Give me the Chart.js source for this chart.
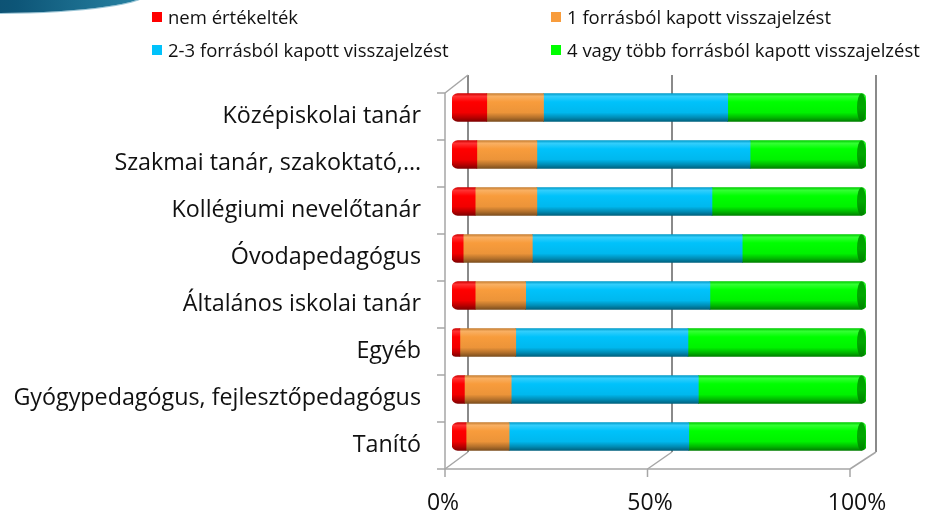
<!DOCTYPE html>
<html>
<head>
<meta charset="utf-8">
<script src="https://cdn.jsdelivr.net/npm/chart.js@4.4.1/dist/chart.umd.min.js"></script>
<style>
  body { margin: 0; background: #fff; }
  #wrap { position: relative; width: 926px; height: 513px; overflow: hidden; }
  #swoosh {
    position: absolute; left: -150px; top: -31px; width: 300px; height: 44px;
    border-radius: 50%;
    background: linear-gradient(90deg, #0b3f5c 0%, #0d5577 55%, #2a86a6 100%);
    box-shadow: 0 1px 0 #9cc7d8;
  }
  #legend { position: absolute; left: 0; top: 0; width: 926px; height: 70px; font-family: "Open Sans", sans-serif; font-size: 18.5px; color: #111; }
  .item { position: absolute; display: flex; align-items: center; white-space: nowrap; line-height: 22px; }
  .box { width: 10px; height: 10px; margin-right: 6px; }
  canvas { position: absolute; left: 0; top: 0; }
</style>
</head>
<body>
<div id="wrap">
  <canvas id="chart" width="926" height="513"></canvas>
  <div id="swoosh"></div>
  <div id="legend"></div>
</div>
<script>
// Categories, top to bottom
const categories = [
  'Középiskolai tanár',
  'Szakmai tanár, szakoktató,…',
  'Kollégiumi nevelőtanár',
  'Óvodapedagógus',
  'Általános iskolai tanár',
  'Egyéb',
  'Gyógypedagógus, fejlesztőpedagógus',
  'Tanító',
];

// Series names
const seriesNames = [
  'nem értékelték',
  '1 forrásból kapott visszajelzést',
  '2-3 forrásból kapott visszajelzést',
  '4 vagy több forrásból kapott visszajelzést',
];

// Shares in percent
const notRated = [8.4, 6.0, 5.6, 2.7, 5.6, 1.9, 3.0, 3.4];
const oneSource = [13.7, 14.5, 14.9, 16.7, 12.2, 13.5, 11.3, 10.4];
const twoThreeSources = [44.5, 51.5, 42.3, 50.7, 44.5, 41.6, 45.2, 43.4];
const fourPlusSources = [33.4, 28.0, 37.2, 29.9, 37.7, 43.0, 40.5, 42.8];

// Axis ticks
const xTicks = [0, 50, 100];

const seriesColors = ['#ff0000', '#f89c3c', '#00c2fb', '#00ff00'];

// Colour helpers
const hexToRgb = hex => [1, 3, 5].map(i => parseInt(hex.slice(i, i + 2), 16));
const shade = (hex, f) => `rgb(${hexToRgb(hex).map(c => Math.round(c * f)).join(',')})`;
const tint = (hex, f) => `rgb(${hexToRgb(hex).map(c => Math.round(c + (255 - c) * f)).join(',')})`;

const BAR_H = 28;

// Cylinder-like vertical gradient for each bar
const cylinder = (ctx, hex) => {
  const chart = ctx.chart;
  if (!chart.chartArea || ctx.dataIndex === undefined) return hex;
  const y = chart.scales.y.getPixelForValue(ctx.dataIndex);
  const g = chart.ctx.createLinearGradient(0, y - BAR_H / 2, 0, y + BAR_H / 2);
  g.addColorStop(0, shade(hex, 0.8));
  g.addColorStop(0.1, tint(hex, 0.2));
  g.addColorStop(0.3, hex);
  g.addColorStop(0.68, shade(hex, 0.95));
  g.addColorStop(0.86, shade(hex, 0.72));
  g.addColorStop(1, shade(hex, 0.5));
  return g;
};

// Legend (HTML, 2 x 2 grid)
const legendPos = [[152, 17], [551, 17], [152, 50], [551, 50]];
const legendEl = document.getElementById('legend');
seriesNames.forEach((name, i) => {
  const item = document.createElement('div');
  item.className = 'item';
  item.style.left = legendPos[i][0] + 'px';
  item.style.top = (legendPos[i][1] - 11) + 'px';
  item.innerHTML = `<span class="box" style="background:${seriesColors[i]}"></span>${name}`;
  legendEl.appendChild(item);
});

// 3D walls, floor and axis lines drawn from the scales
const wallsPlugin = {
  id: 'walls',
  beforeDatasetsDraw(chart) {
    const { ctx, scales: { x, y } } = chart;
    const span = x.getPixelForValue(100) - x.getPixelForValue(0) - 9;
    const front = v => x.getPixelForValue(0) - 7 + (v / 100) * span;
    const back = v => x.getPixelForValue(0) + 16 + (v / 100) * (span + 3);
    const pitch = y.getPixelForValue(1) - y.getPixelForValue(0);
    const frontTop = y.getPixelForValue(0) - pitch / 2 + 9;
    const frontBottom = y.getPixelForValue(categories.length - 1) + pitch / 2 + 9;
    const backTop = frontTop - 18;
    const backBottom = frontBottom - 17;

    ctx.save();
    // back wall verticals
    ctx.strokeStyle = '#8a8a8a';
    ctx.lineWidth = 2;
    xTicks.forEach(v => {
      ctx.beginPath();
      ctx.moveTo(back(v), backTop);
      ctx.lineTo(back(v), backBottom);
      ctx.stroke();
    });
    // floor diagonals and left top diagonal
    ctx.strokeStyle = '#a6a6a6';
    ctx.lineWidth = 1.5;
    xTicks.forEach(v => {
      ctx.beginPath();
      ctx.moveTo(front(v), frontBottom);
      ctx.lineTo(back(v), backBottom);
      ctx.stroke();
    });
    ctx.beginPath();
    ctx.moveTo(front(0), frontTop);
    ctx.lineTo(back(0), backTop);
    ctx.stroke();
    // front axes
    ctx.beginPath();
    ctx.moveTo(front(0), frontTop);
    ctx.lineTo(front(0), frontBottom);
    ctx.lineTo(front(100), frontBottom);
    ctx.stroke();
    // tick marks
    for (let i = 0; i <= categories.length; i++) {
      const ty = frontTop + i * pitch;
      ctx.beginPath();
      ctx.moveTo(front(0) - 8, ty);
      ctx.lineTo(front(0), ty);
      ctx.stroke();
    }
    xTicks.forEach(v => {
      ctx.beginPath();
      ctx.moveTo(front(v), frontBottom);
      ctx.lineTo(front(v), frontBottom + 8);
      ctx.stroke();
    });
    ctx.restore();
  },
  afterDatasetsDraw(chart) {
    // elliptical end faces on the last series
    const { ctx } = chart;
    const meta = chart.getDatasetMeta(chart.data.datasets.length - 1);
    const base = seriesColors[seriesColors.length - 1];
    ctx.save();
    meta.data.forEach(bar => {
      const h = bar.height;
      const g = ctx.createLinearGradient(0, bar.y - h / 2, 0, bar.y + h / 2);
      g.addColorStop(0, shade(base, 0.62));
      g.addColorStop(0.5, shade(base, 0.66));
      g.addColorStop(1, shade(base, 0.5));
      ctx.fillStyle = g;
      ctx.beginPath();
      ctx.ellipse(bar.x - 4.5, bar.y, 4.5, h / 2, 0, 0, Math.PI * 2);
      ctx.fill();
    });
    ctx.restore();
  },
};

const seriesData = [notRated, oneSource, twoThreeSources, fourPlusSources];
const lastIdx = seriesData.length - 1;

const datasets = seriesData.map((data, i) => ({
  label: seriesNames[i],
  data,
  backgroundColor: ctx => cylinder(ctx, seriesColors[i]),
  borderWidth: 0,
  borderSkipped: false,
  borderRadius:
    i === 0
      ? { topLeft: 6, bottomLeft: 6, topRight: 0, bottomRight: 0 }
      : i === lastIdx
      ? { topLeft: 0, bottomLeft: 0, topRight: 5, bottomRight: 5 }
      : 0,
  barThickness: BAR_H,
}));

new Chart(document.getElementById('chart'), {
  type: 'bar',
  data: { labels: categories, datasets },
  options: {
    indexAxis: 'y',
    responsive: false,
    animation: false,
    layout: { padding: { left: 10, right: 60, top: 84, bottom: 0 } },
    plugins: {
      legend: { display: false },
      tooltip: { enabled: false },
    },
    scales: {
      x: {
        stacked: true,
        min: 0,
        max: 100,
        grid: { display: false },
        border: { display: false },
        afterBuildTicks: scale => {
          scale.ticks = xTicks.map(value => ({ value }));
        },
        afterFit: scale => {
          scale.height = 53;
        },
        ticks: {
          padding: 22,
          labelOffset: -9,
          color: '#111',
          font: { family: 'Open Sans', size: 23 },
          callback: v => v + '%',
        },
      },
      y: {
        stacked: true,
        grid: { display: false },
        border: { display: false },
        afterFit: scale => {
          scale.width = 442;
        },
        ticks: {
          padding: 23,
          labelOffset: 9,
          color: '#111',
          font: { family: 'Open Sans', size: 23.3 },
        },
      },
    },
  },
  plugins: [wallsPlugin],
});
</script>
</body>
</html>
